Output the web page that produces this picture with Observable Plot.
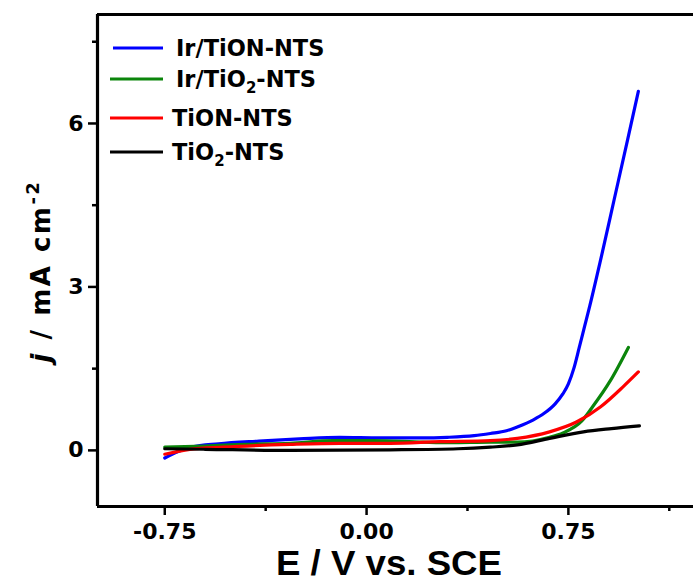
<!DOCTYPE html>
<html>
<head>
<meta charset="utf-8">
<script src="https://cdn.jsdelivr.net/npm/d3@7"></script>
<script src="https://cdn.jsdelivr.net/npm/@observablehq/plot@0.6"></script>
<style>
  html, body { margin: 0; padding: 0; background: #fff; }
</style>
</head>
<body>
<div id="chart"></div>
<script>
// ---- data (E in V vs. SCE, j in mA cm^-2) ----
const seriesNames = ["Ir/TiON-NTS", "Ir/TiO2-NTS", "TiON-NTS", "TiO2-NTS"];
const seriesColors = ["#0000ff", "#0b850b", "#ff0000", "#000000"];

const E_IrTiON = [-0.75, -0.70, -0.65, -0.55, -0.40, -0.25, -0.10, 0.05, 0.20, 0.30, 0.40, 0.46, 0.52, 0.56, 0.62, 0.66, 0.70, 0.73, 0.75, 0.77, 0.79, 0.81, 0.83, 0.87, 0.92, 0.97, 1.01];
const j_IrTiON = [-0.14, -0.02, 0.06, 0.12, 0.17, 0.21, 0.24, 0.23, 0.23, 0.24, 0.27, 0.31, 0.36, 0.43, 0.56, 0.68, 0.85, 1.04, 1.22, 1.50, 1.88, 2.27, 2.66, 3.50, 4.60, 5.70, 6.59];

const E_IrTiO2 = [-0.75, -0.60, -0.45, -0.285, -0.125, 0.024, 0.21, 0.31, 0.46, 0.56, 0.68, 0.73, 0.80, 0.84, 0.906, 0.973];
const j_IrTiO2 = [0.06, 0.08, 0.11, 0.13, 0.18, 0.18, 0.15, 0.14, 0.15, 0.15, 0.24, 0.32, 0.54, 0.80, 1.28, 1.89];

const E_TiON = [-0.75, -0.657, -0.534, -0.285, -0.10, 0.087, 0.273, 0.46, 0.56, 0.68, 0.78, 0.87, 0.954, 1.01];
const j_TiON = [-0.07, 0.02, 0.06, 0.11, 0.13, 0.13, 0.16, 0.18, 0.22, 0.34, 0.52, 0.80, 1.17, 1.44];

const E_TiO2 = [-0.75, -0.60, -0.285, 0.087, 0.34, 0.46, 0.56, 0.68, 0.806, 0.91, 1.014];
const j_TiO2 = [0.03, 0.02, 0.00, 0.01, 0.03, 0.06, 0.10, 0.22, 0.34, 0.40, 0.45];

const xMajorTicks = [-0.75, 0.00, 0.75];
const xMinorTicks = [-0.375, 0.375, 1.125];
const yMajorTicks = [0, 3, 6];
const yMinorTicks = [1.5, 4.5, 7.5];
const xDomain = [-1.0, 1.215];
const yDomain = [-1.03, 8.0];

// ---- build table ----
const seriesE = [E_IrTiON, E_IrTiO2, E_TiON, E_TiO2];
const seriesJ = [j_IrTiON, j_IrTiO2, j_TiON, j_TiO2];
const rows = [];
seriesNames.forEach((name, k) => {
  seriesE[k].forEach((e, i) => rows.push({series: name, E: e, j: seriesJ[k][i]}));
});

const FONT = "DejaVu Sans";

const svg = Plot.plot({
  width: 693,
  height: 583,
  marginLeft: 97,
  marginRight: 0,
  marginTop: 14,
  marginBottom: 77,
  style: {fontFamily: FONT, fontWeight: "bold", background: "#fff", color: "#000", overflow: "visible"},
  x: {domain: xDomain},
  y: {domain: yDomain},
  color: {domain: seriesNames, range: seriesColors},
  marks: [
    Plot.line(rows, {x: "E", y: "j", z: "series", stroke: "series", strokeWidth: 3.2, curve: "monotone-x"}),
    Plot.axisX({ticks: xMajorTicks, tickFormat: d => d.toFixed(2), tickSize: 9, tickPadding: 8, strokeWidth: 2.5, fontSize: 22, label: null}),
    Plot.axisX({ticks: xMinorTicks, tickFormat: () => "", tickSize: 5, strokeWidth: 2.5, label: null}),
    Plot.axisY({ticks: yMajorTicks, tickFormat: d => String(d), tickSize: 9, tickPadding: 5, strokeWidth: 2.5, fontSize: 22, label: null}),
    Plot.axisY({ticks: yMinorTicks, tickFormat: () => "", tickSize: 5, strokeWidth: 2.5, label: null}),
    Plot.ruleX([xDomain[0]], {strokeWidth: 3.2}),
    Plot.ruleY([yDomain[0]], {strokeWidth: 3.2}),
    Plot.ruleY([yDomain[1]], {strokeWidth: 3.2})
  ]
});

const s = d3.select(svg);

// x label
s.append("text")
  .attr("x", 389).attr("y", 575)
  .attr("text-anchor", "middle")
  .attr("textLength", 226).attr("lengthAdjust", "spacingAndGlyphs")
  .style("font-family", "Liberation Sans").style("font-weight", "bold").style("font-size", "35px")
  .attr("fill", "#000")
  .text("E / V vs. SCE");

// y label
const yl = s.append("text")
  .attr("transform", "translate(50,271) rotate(-90)")
  .attr("text-anchor", "middle")
  .style("font-family", FONT).style("font-weight", "bold").style("font-size", "26px")
  .style("letter-spacing", "2.5px")
  .attr("fill", "#000");
yl.append("tspan").style("font-style", "italic").text("j");
yl.append("tspan").text(" / mA cm");
yl.append("tspan").attr("dy", -11).style("font-size", "18px").text("-2");

// legend
const legend = [
  {i: 0, y: 48, x1: 113, tx: 176, parts: ["Ir/TiON-NTS"]},
  {i: 1, y: 79, x1: 110, tx: 176, parts: ["Ir/TiO", "2", "-NTS"]},
  {i: 2, y: 118, x1: 110, tx: 172, parts: ["TiON-NTS"]},
  {i: 3, y: 152, x1: 110, tx: 172, parts: ["TiO", "2", "-NTS"]}
];
const lg = s.append("g").attr("text-anchor", "start");
legend.forEach(L => {
  lg.append("line").attr("x1", L.x1).attr("x2", 163).attr("y1", L.y).attr("y2", L.y)
    .attr("stroke", seriesColors[L.i]).attr("stroke-width", 3);
  const t = lg.append("text").attr("x", L.tx).attr("y", L.y + 7.5)
    .attr("text-anchor", "start")
    .style("font-family", FONT).style("font-weight", "bold").style("font-size", "22.5px")
    .attr("fill", "#000");
  if (L.parts.length === 1) {
    t.text(L.parts[0]);
  } else {
    t.append("tspan").text(L.parts[0]);
    t.append("tspan").attr("dy", 6).style("font-size", "15px").text(L.parts[1]);
    t.append("tspan").attr("dy", -6).text(L.parts[2]);
  }
});

document.getElementById("chart").appendChild(svg);
</script>
</body>
</html>
